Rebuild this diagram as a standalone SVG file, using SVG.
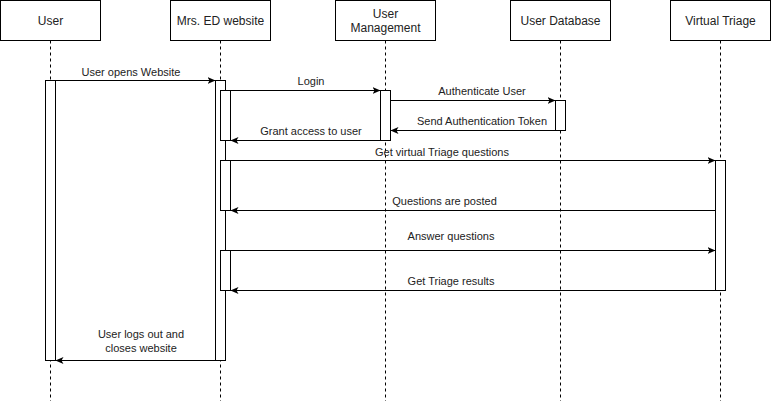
<svg xmlns="http://www.w3.org/2000/svg" width="771" height="401" viewBox="0 0 771 401">
<defs>
<style>
.box{fill:#fff;stroke:#000;stroke-width:1}
.life{stroke:#000;stroke-width:1;stroke-dasharray:3 3;fill:none}
.act{fill:#fff;stroke:#000;stroke-width:1}
.msg{stroke:#000;stroke-width:1;fill:none;marker-end:url(#arr)}
.hd{font-family:"Liberation Sans",Arial,sans-serif;font-size:12px;fill:#222;text-anchor:middle}
.lb{font-family:"Liberation Sans",Arial,sans-serif;font-size:11px;fill:#222;text-anchor:middle}
</style>
<marker id="arr" viewBox="0 0 8 7" refX="8" refY="3.5" markerWidth="8" markerHeight="7" markerUnits="userSpaceOnUse" orient="auto">
<path d="M0,0 L8,3.5 L0,7 L2,3.5 Z" fill="#000"/>
</marker>
</defs>
<rect width="771" height="401" fill="#fff"/>
<g id="lifelines">
<line class="life" x1="50.5" y1="40.5" x2="50.5" y2="401"/>
<line class="life" x1="220.5" y1="40.5" x2="220.5" y2="401"/>
<line class="life" x1="385.5" y1="40.5" x2="385.5" y2="401"/>
<line class="life" x1="560.5" y1="40.5" x2="560.5" y2="401"/>
<line class="life" x1="720.5" y1="40.5" x2="720.5" y2="401"/>
</g>
<g id="user">
<rect class="box" x="0.5" y="0.5" width="100" height="40"/>
<text class="hd" x="50.5" y="24.5">User</text>
<rect class="act" x="45.5" y="80.5" width="10" height="280"/>
</g>
<g id="website">
<rect class="box" x="170.5" y="0.5" width="100" height="40"/>
<text class="hd" x="220.5" y="24.5">Mrs. ED website</text>
<rect class="act" x="215.5" y="80.5" width="10" height="280"/>
<rect class="act" x="220.5" y="90.5" width="10" height="50"/>
<rect class="act" x="220.5" y="160.5" width="10" height="50"/>
<rect class="act" x="220.5" y="250.5" width="10" height="40"/>
</g>
<g id="usermgmt">
<rect class="box" x="335.5" y="0.5" width="100" height="40"/>
<text class="hd" x="385.5" y="17.5">User</text>
<text class="hd" x="385.5" y="31.5">Management</text>
<rect class="act" x="380.5" y="90.5" width="10" height="50"/>
</g>
<g id="userdb">
<rect class="box" x="510.5" y="0.5" width="100" height="40"/>
<text class="hd" x="560.5" y="24.5">User Database</text>
<rect class="act" x="555.5" y="100.5" width="10" height="30"/>
</g>
<g id="triage">
<rect class="box" x="670.5" y="0.5" width="100" height="40"/>
<text class="hd" x="720.5" y="24.5">Virtual Triage</text>
<rect class="act" x="715.5" y="160.5" width="10" height="130"/>
</g>
<g id="connectors">
<line class="msg" x1="55.5" y1="80.5" x2="215.5" y2="80.5"/>
<text class="lb" x="131" y="75.5">User opens Website</text>
<line class="msg" x1="230.5" y1="90.5" x2="380.5" y2="90.5"/>
<text class="lb" x="311" y="85">Login</text>
<line class="msg" x1="390.5" y1="100.5" x2="555.5" y2="100.5"/>
<text class="lb" x="482" y="95">Authenticate User</text>
<line class="msg" x1="555.5" y1="130.5" x2="390.5" y2="130.5"/>
<text class="lb" x="482" y="125">Send Authentication Token</text>
<line class="msg" x1="380.5" y1="140.5" x2="230.5" y2="140.5"/>
<text class="lb" x="311" y="135">Grant access to user</text>
<line class="msg" x1="230.5" y1="160.5" x2="715.5" y2="160.5"/>
<text class="lb" x="442" y="155.5">Get virtual Triage questions</text>
<line class="msg" x1="715.5" y1="210.5" x2="230.5" y2="210.5"/>
<text class="lb" x="444.5" y="205">Questions are posted</text>
<line class="msg" x1="230.5" y1="250.5" x2="715.5" y2="250.5"/>
<text class="lb" x="451" y="240">Answer questions</text>
<line class="msg" x1="715.5" y1="290.5" x2="230.5" y2="290.5"/>
<text class="lb" x="451" y="285">Get Triage results</text>
<line class="msg" x1="215.5" y1="360.5" x2="55.5" y2="360.5"/>
<text class="lb" x="141" y="338">User logs out and</text>
<text class="lb" x="141" y="352">closes website</text>
</g>
</svg>
